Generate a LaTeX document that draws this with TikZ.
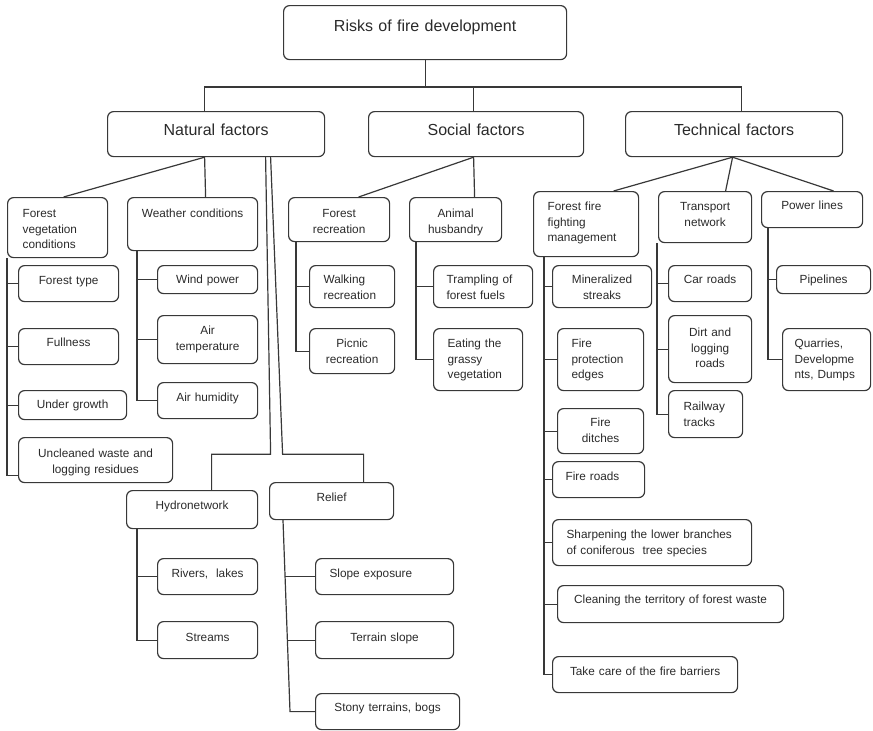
\documentclass[tikz,border=0pt]{standalone}
\usepackage{fontspec}
\setmainfont{Liberation Sans}
\usetikzlibrary{positioning, calc}
\definecolor{edge}{HTML}{383838}
\definecolor{ink}{HTML}{2A2A2A}

\begin{document}
\begin{tikzpicture}[
    x=1pt, y=-1pt,
    cell/.style={draw=edge, line width=1.2pt, rounded corners=6pt, anchor=north west, inner ysep=0pt, inner xsep=4pt, align=center, text=ink, font=\fontsize{11.8}{15.5}\selectfont},
    head/.style={cell, font=\fontsize{16}{19}\selectfont},
    lcell/.style={cell, inner xsep=14pt, align=left},
    sz/.style n args={3}{text width=#1pt, text height=#2pt, text depth=#3pt},
    link/.style={draw=edge, line width=1.2pt},
]
\useasboundingbox (0,0) rectangle (873,731);

% Top levels
\node[head, sz={275}{26}{28}] (root) at (283,5) {Risks of fire development};
\node[head, sz={209}{24}{21}] (nat) at (107,111) {Natural factors};
\node[head, sz={207}{24}{21}] (soc) at (368,111) {Social factors};
\node[head, sz={209}{24}{21}] (tec) at (625,111) {Technical factors};

% Natural factors
\node[lcell, inner xsep=15pt, sz={70}{20}{40}] (fveg) at (7,197) {Forest\\vegetation\\conditions};
\node[cell, sz={122}{20}{33}] (weather) at (127,197) {Weather conditions};
\node[cell, sz={92}{19}{17}] (ftype) at (18,265) {Forest type};
\node[cell, sz={92}{18}{18}] (full) at (18,328) {Fullness};
\node[cell, sz={100}{18}{11}] (under) at (18,390) {Under growth};
\node[cell, sz={146}{20}{25}] (uncl) at (18,437) {Uncleaned waste and\\logging residues};
\node[cell, sz={92}{18}{10}] (wind) at (157,265) {Wind power};
\node[cell, sz={92}{19}{29}] (airt) at (157,315) {Air\\temperature};
\node[cell, sz={92}{19}{17}] (airh) at (157,382) {Air humidity};
\node[cell, sz={123}{19}{19}] (hydro) at (126,490) {Hydronetwork};
\node[cell, sz={116}{19}{18}] (relief) at (269,482) {Relief};
\node[cell, sz={92}{19}{17}] (rivers) at (157,558) {Rivers,\ \ lakes};
\node[cell, sz={92}{20}{17}] (streams) at (157,621) {Streams};
\node[lcell, sz={110}{19}{17}] (slope) at (315,558) {Slope exposure};
\node[cell, sz={130}{20}{17}] (terrain) at (315,621) {Terrain slope};
\node[cell, sz={136}{18}{18}] (stony) at (315,693) {Stony terrains, bogs};

% Social factors
\node[cell, sz={93}{20}{24}] (frec) at (288,197) {Forest\\recreation};
\node[cell, sz={84}{20}{24}] (animal) at (409,197) {Animal\\husbandry};
\node[lcell, sz={57}{18}{24}] (walk) at (309,265) {Walking\\recreation};
\node[cell, sz={77}{19}{26}] (picnic) at (309,328) {Picnic\\recreation};
\node[lcell, inner xsep=13pt, sz={73}{18}{24}] (tramp) at (433,265) {Trampling of\\forest fuels};
\node[lcell, sz={61}{19}{43}] (eating) at (433,328) {Eating the\\grassy\\vegetation};

% Technical factors
\node[lcell, sz={77}{19}{46}] (ffm) at (533,191) {Forest fire\\fighting\\management};
\node[cell, sz={85}{19}{32}] (transport) at (658,191) {Transport\\network};
\node[cell, sz={93}{18}{18}] (power) at (761,191) {Power lines};
\node[cell, sz={91}{18}{24}] (miner) at (552,265) {Mineralized\\streaks};
\node[lcell, sz={58}{19}{43}] (fprot) at (557,328) {Fire\\protection\\edges};
\node[cell, sz={78}{18}{27}] (fditch) at (557,408) {Fire\\ditches};
\node[lcell, inner xsep=13pt, sz={66}{19}{17}] (froads) at (552,461) {Fire roads};
\node[lcell, sz={171}{19}{27}] (sharp) at (552,519) {Sharpening the lower branches\\of coniferous\ \ tree species};
\node[cell, sz={218}{18}{19}] (clean) at (557,585) {Cleaning the territory of forest waste};
\node[cell, sz={177}{19}{17}] (care) at (552,656) {Take care of the fire barriers};
\node[cell, sz={75}{18}{18}] (car) at (668,265) {Car roads};
\node[cell, sz={75}{21}{46}] (dirt) at (668,315) {Dirt and\\logging\\roads};
\node[lcell, inner xsep=15pt, sz={44}{20}{27}] (rail) at (668,390) {Railway\\tracks};
\node[cell, sz={86}{18}{10}] (pipe) at (776,265) {Pipelines};
\node[lcell, inner xsep=12pt, sz={64}{19}{43}] (quarry) at (782,328) {Quarries,\\Developme\\nts, Dumps};

% Top connectors
\coordinate (busL) at (204,87);
\coordinate (busR) at (741,87);
\draw[link] (root.south) -- (root.south |- busL);
\draw[link] ([xshift=-11.5pt]nat.north) |- (busL) -- (busR) -| ([xshift=7.5pt]tec.north);
\draw[link] ([xshift=-2.5pt]soc.north) -- ([xshift=-2.5pt]soc.north |- busL);

% Natural branches
\coordinate (natfork) at ([xshift=-11.5pt]nat.south);
\draw[link] ([xshift=6pt]fveg.north) -- (natfork) -- ([xshift=13pt]weather.north);
\draw[link] ([xshift=49.5pt]nat.south) -- ++(5,297) -| ([xshift=19.5pt]hydro.north);
\draw[link] ([xshift=54.5pt]nat.south) -- ++(12,297) -| ([xshift=32pt]relief.north);

\draw[link] (fveg.south west) |- ([yshift=-15pt]uncl.west);
\foreach \c in {ftype,full,under}
    \draw[link] (\c.west) -- (\c.west -| fveg.west);

\coordinate (wsp) at ([xshift=10pt]weather.south west);
\draw[link] (wsp) |- (airh.west);
\foreach \c in {wind,airt}
    \draw[link] (\c.west) -- (\c.west -| wsp);

\coordinate (hsp) at ([xshift=11pt]hydro.south west);
\draw[link] (hsp) |- (streams.west);
\draw[link] (rivers.west) -- (rivers.west -| hsp);

\coordinate (rsp) at ([xshift=14pt]relief.south west);
\draw[link] (rsp) -- ([xshift=-25pt]stony.west) -- (stony.west);
\draw[link] ([xshift=-30pt]slope.west) -- (slope.west);
\draw[link] ([xshift=-27.5pt]terrain.west) -- (terrain.west);

% Social branches
\draw[link] ([xshift=19.5pt]frec.north) -- ([xshift=-2.5pt]soc.south) -- ([xshift=19pt]animal.north);

\coordinate (fsp) at ([xshift=8pt]frec.south west);
\draw[link] (fsp) |- (picnic.west);
\draw[link] (walk.west) -- (walk.west -| fsp);

\coordinate (asp) at ([xshift=7pt]animal.south west);
\draw[link] (asp) |- (eating.west);
\draw[link] (tramp.west) -- (tramp.west -| asp);

% Technical branches
\draw[link] ([xshift=27.5pt]ffm.north) -- ([xshift=-1.5pt]tec.south) -- ([xshift=21.5pt]power.north);
\draw[link] ([xshift=-1.5pt]tec.south) -- ([xshift=20.5pt]transport.north);

\coordinate (msp) at ([xshift=11pt]ffm.south west);
\draw[link] (msp) |- (care.west);
\foreach \c in {miner,fprot,fditch,froads,sharp,clean}
    \draw[link] (\c.west) -- (\c.west -| msp);

\coordinate (tsp) at ([xshift=-1pt]transport.south west);
\draw[link] (tsp) |- (rail.west);
\foreach \c in {car,dirt}
    \draw[link] (\c.west) -- (\c.west -| tsp);

\coordinate (psp) at ([xshift=7pt]power.south west);
\draw[link] (psp) |- (quarry.west);
\draw[link] (pipe.west) -- (pipe.west -| psp);

\end{tikzpicture}
\end{document}
